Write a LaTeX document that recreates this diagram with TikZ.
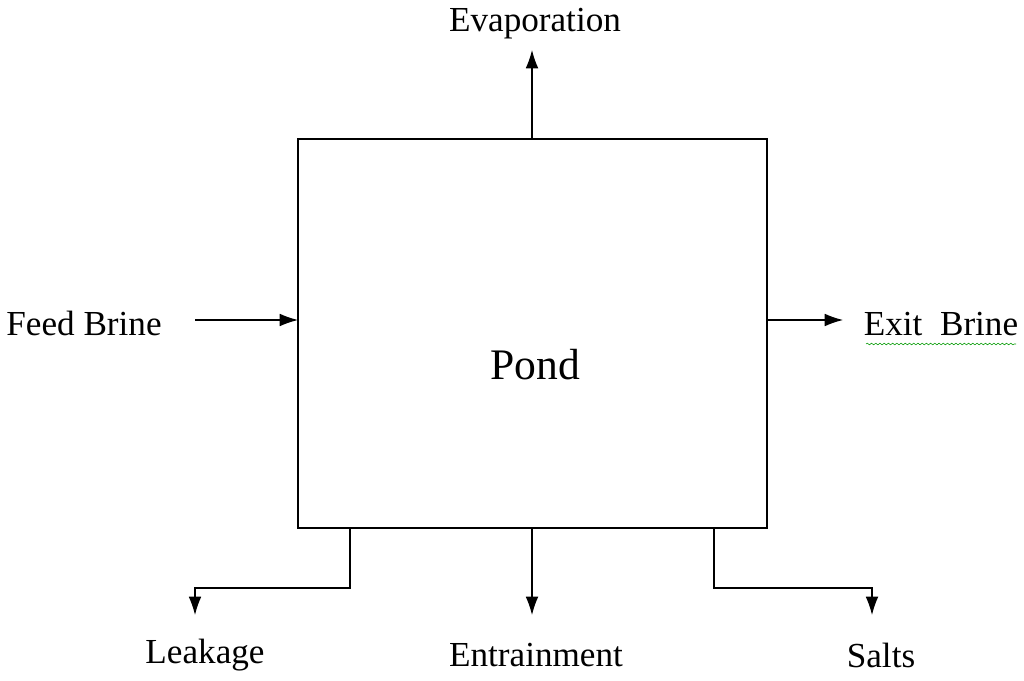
\documentclass[tikz,border=0pt]{standalone}
\usepackage{fontspec}
\setmainfont{Liberation Serif}
\usetikzlibrary{arrows.meta,decorations.pathmorphing}
\tikzset{
  flow/.style={thick,-{Latex[length=13pt,width=9pt]}},
  lbl/.style={font=\fontsize{25}{28}\selectfont,inner sep=0pt}
}
\begin{document}
\begin{tikzpicture}[x=0.025cm,y=-0.025cm]
  \useasboundingbox (0,0) rectangle (1024,681);
  % Pond box
  \draw[thick] (298,139) rectangle (767,528);
  \node[font=\fontsize{31}{34}\selectfont] (pond) at (535,365) {Pond};
  \coordinate (top) at (532,139);
  \coordinate (left) at (298,320);
  \coordinate (right) at (767,320);
  \coordinate (bl) at (350,528);
  \coordinate (bm) at (532,528);
  \coordinate (br) at (714,528);

  % Labels
  \node[lbl] (evap) at (535,24) {Evaporation};
  \node[lbl] (feed) at (84,323) {Feed Brine};
  \node[lbl] (exit) at (941,324) {Exit\ \ Brine};
  \node[lbl] (leak) at (205,655) {Leakage};
  \node[lbl] (entr) at (536,655) {Entrainment};
  \node[lbl] (salt) at (881,655) {Salts};
  \draw[green!60!black,decorate,decoration={snake,amplitude=0.6pt,segment length=3pt}]
    (866,344) -- (1016,344);

  % Streams
  \coordinate (ev) at (532,50);
  \coordinate (fd) at (195,320);
  \coordinate (ex) at (843,320);
  \draw[flow] (top) -- (ev);
  \draw[flow] (fd) -- (left);
  \draw[flow] (right) -- (ex);
  \draw[flow] (bl) -- (350,588) -- (195,588) -- (195,615);
  \draw[flow] (bm) -- (532,615);
  \draw[flow] (br) -- (714,588) -- (872,588) -- (872,615);
\end{tikzpicture}
\end{document}
